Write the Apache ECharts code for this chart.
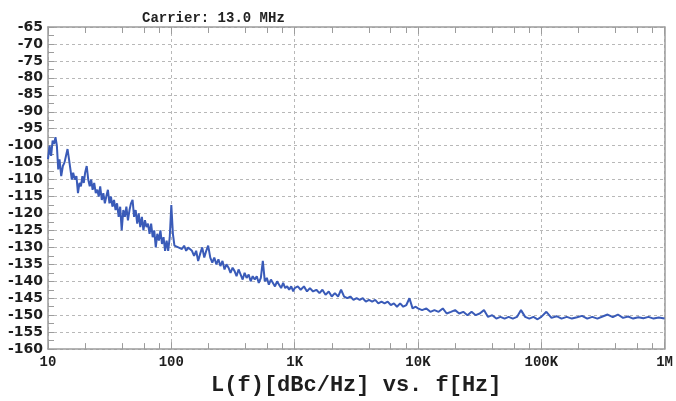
<!DOCTYPE html>
<html>
<head>
<meta charset="utf-8">
<script src="https://cdn.jsdelivr.net/npm/echarts@6/dist/echarts.min.js"></script>
<style>
html,body{margin:0;padding:0;background:#fff;}
#chart{width:676px;height:401px;}
</style>
</head>
<body>
<div id="chart"></div>
<script>
// Offset frequency (Hz)
var freqs = [
  10, 10.3, 10.6, 10.9, 11.2, 11.5, 11.8, 12.1, 12.4, 12.8,
  13.2, 13.6, 14, 14.4, 14.8, 15.2, 15.6, 16, 16.5, 17,
  17.5, 18, 18.5, 19, 19.5, 20, 20.6, 21.2, 21.8, 22.4,
  23, 23.7, 24.4, 25.1, 25.8, 26.5, 27.3, 28.1, 28.9, 29.7,
  30.6, 31.5, 32.4, 33.3, 34.3, 35.3, 36.3, 37.4, 38.5, 39.6,
  40.8, 42, 43.2, 44.5, 45.8, 47.1, 48.5, 49.9, 51.4, 52.9,
  54.4, 56, 57.7, 59.4, 61.1, 62.9, 64.7, 66.6, 68.6, 70.6,
  72.7, 74.8, 77, 79.3, 81.6, 84, 86.5, 89, 91.6, 94.3,
  97.1, 100,
  103, 106, 110, 114, 118, 122, 127, 132, 137, 142,
  147, 153, 159, 165, 171, 178, 185, 192, 199, 207,
  215, 223, 232, 241, 250, 260, 270, 280, 291, 302,
  314, 326, 338, 351, 365, 379, 393, 408, 424, 440,
  457, 475, 493, 512, 532, 552, 573, 595, 618, 642,
  667, 693, 720, 748, 777, 807, 838, 870, 903, 938,
  974, 1000,
  1060, 1120, 1190, 1260, 1330, 1410, 1500, 1590, 1680, 1780,
  1890, 2000, 2120, 2250, 2380, 2520, 2670, 2830, 3000, 3180,
  3370, 3570, 3780, 4010, 4250, 4500, 4770, 5060, 5360, 5680,
  6020, 6380, 6760, 7170, 7600, 8050, 8530, 9040, 9580, 10000,
  10800, 11700, 12600, 13600, 14700, 15900, 17100, 18500, 20000, 21600,
  23300, 25200, 27200, 29400, 31700, 34300, 37000, 40000, 43200, 46600,
  50400, 54400, 58800, 63500, 68500, 74000, 80000, 86400, 93300, 100000,
  110000, 121000, 133000, 146000, 161000, 177000, 195000, 214000, 236000, 259000,
  285000, 314000, 345000, 380000, 418000, 460000, 506000, 556000, 612000, 673000,
  740000, 814000, 896000, 1000000
];
// Phase noise L(f) (dBc/Hz)
var noise = [
  -104, -100, -103, -98.5, -99.5, -97.5, -100, -107, -104, -109,
  -106, -105, -103, -101, -104, -107, -110, -108, -110, -109,
  -114, -111, -112, -109, -111, -108, -106, -110, -112, -110,
  -113, -111, -114, -113, -115, -112, -116, -114, -117, -115,
  -113, -117, -115, -118, -116, -119, -117, -121, -118, -125,
  -119, -121, -118, -122, -119, -117, -116, -121, -119, -123,
  -120, -124, -121, -125, -122, -124, -123, -126, -123, -127,
  -125, -130, -126, -128, -125, -129, -127, -131, -128, -131,
  -127, -117.5,
  -126, -129.5, -129, -130, -129.5, -130.5, -129.5, -131, -130, -130.5,
  -131, -132.5, -131, -134, -132, -130, -133, -131, -129.5, -133,
  -134.5, -133, -135, -133.5, -135.5, -134, -136.5, -135, -136, -137.5,
  -136, -137, -138.5, -136.5, -138, -139.5, -137.5, -139, -138, -140,
  -138.5, -139.5, -138.5, -140.5, -139, -134, -140, -139, -141, -139.5,
  -140.5, -141.5, -140, -141, -142, -140.5, -142, -141.5, -142.5, -141.5,
  -143, -142,
  -141.5, -142.5, -141.5, -143, -142, -143, -142.5, -143.5, -142.5, -144,
  -143, -144.5, -143.5, -144.5, -142.5, -144.5, -145, -144.5, -145.5, -145,
  -145.5, -145, -146, -145.5, -146, -145.5, -146.5, -146, -146.5, -146,
  -147, -146.5, -147.5, -146.5, -147.5, -147, -145, -148, -147.5, -148,
  -148.5, -148, -149, -148.5, -149, -148, -149.5, -149, -148.5, -149.5,
  -149, -150, -149, -150, -149.5, -148.5, -150.5, -150, -151, -150.5,
  -151, -150.5, -151, -150.5, -148.5, -150.5, -151, -150.5, -151.2, -150.5,
  -149, -150.8, -150.3, -151, -150.5, -151, -150.6, -150.2, -151, -150.5,
  -151, -150.4, -149.8, -150.6, -149.8, -150.8, -150.4, -151, -150.6, -150.9,
  -150.5, -151, -150.7, -151
];
var xTickValues = [10, 100, 1000, 10000, 100000, 1000000];
var xTickLabels = ['10', '100', '1K', '10K', '100K', '1M'];
var xMinorTicks = [20, 40, 60, 80, 200, 400, 600, 800, 2000, 4000, 6000, 8000,
  20000, 40000, 60000, 80000, 200000, 400000, 600000, 800000];
var yMin = -160, yMax = -65, yStep = 5;

var chart = echarts.init(document.getElementById('chart'), null, {renderer: 'canvas'});
var frame = '#9c9c9c';
var gridCol = '#b8b8b8';

var option = {
  backgroundColor: '#ffffff',
  animation: false,
  title: {
    text: 'Carrier: 13.0 MHz',
    left: 137, top: 6,
    textStyle: {fontFamily: 'Liberation Mono', fontWeight: 'bold', fontSize: 14, color: '#222'}
  },
  grid: {left: 48, right: 10, top: 27, bottom: 48, containLabel: false},
  xAxis: [
    {
      type: 'log', logBase: 10, min: 10, max: 1000000, position: 'bottom',
      name: 'L(f)[dBc/Hz] vs. f[Hz]', nameLocation: 'middle', nameGap: 20,
      nameTextStyle: {fontFamily: 'Liberation Mono', fontWeight: 'bold', fontSize: 22, color: '#1e1e1e'},
      axisLine: {show: true, lineStyle: {color: frame, width: 1.5}},
      axisTick: {show: true, inside: true, length: 7, lineStyle: {color: frame}},
      axisLabel: {
        margin: 6,
        formatter: function (v) {
          var i = xTickValues.indexOf(v);
          return i >= 0 ? xTickLabels[i] : '';
        },
        fontFamily: 'Liberation Mono', fontWeight: 'bold', fontSize: 14, color: '#1e1e1e'
      },
      splitLine: {show: true, lineStyle: {color: gridCol, type: [3, 3], width: 1}}
    },
    {
      type: 'log', logBase: 10, min: 10, max: 1000000, position: 'top',
      axisLine: {show: true, lineStyle: {color: frame, width: 1.5}},
      axisTick: {show: true, inside: true, length: 7, lineStyle: {color: frame}},
      axisLabel: {show: false}, splitLine: {show: false}
    },
    {
      type: 'log', logBase: 10, min: 10, max: 1000000, position: 'bottom',
      axisLine: {show: false},
      axisTick: {show: true, inside: true, length: 6, customValues: xMinorTicks, lineStyle: {color: frame}},
      axisLabel: {show: false}, splitLine: {show: false}
    },
    {
      type: 'log', logBase: 10, min: 10, max: 1000000, position: 'top',
      axisLine: {show: false},
      axisTick: {show: true, inside: true, length: 6, customValues: xMinorTicks, lineStyle: {color: frame}},
      axisLabel: {show: false}, splitLine: {show: false}
    }
  ],
  yAxis: [
    {
      type: 'value', min: yMin, max: yMax, interval: yStep, position: 'left',
      axisLine: {show: true, lineStyle: {color: frame, width: 1.5}},
      axisTick: {show: true, inside: true, length: 6, lineStyle: {color: frame}},
      minorTick: {show: true, splitNumber: 2, length: 6, lineStyle: {color: frame}},
      axisLabel: {margin: 5, fontFamily: 'DejaVu Sans', fontWeight: 'bold', fontSize: 14, color: '#1e1e1e'},
      splitLine: {show: true, lineStyle: {color: gridCol, type: [3, 3], width: 1}}
    },
    {
      type: 'value', min: yMin, max: yMax, interval: yStep, position: 'right',
      axisLine: {show: true, lineStyle: {color: frame, width: 1.5}},
      axisTick: {show: false}, axisLabel: {show: false}, splitLine: {show: false}
    }
  ],
  series: [{
    type: 'line',
    xAxisIndex: 0, yAxisIndex: 0,
    data: freqs.map(function (f, i) { return [f, noise[i]]; }),
    showSymbol: false, symbol: 'none',
    lineStyle: {color: '#3a5bb8', width: 2},
    z: 5
  }]
};
chart.setOption(option);
</script>
</body>
</html>
